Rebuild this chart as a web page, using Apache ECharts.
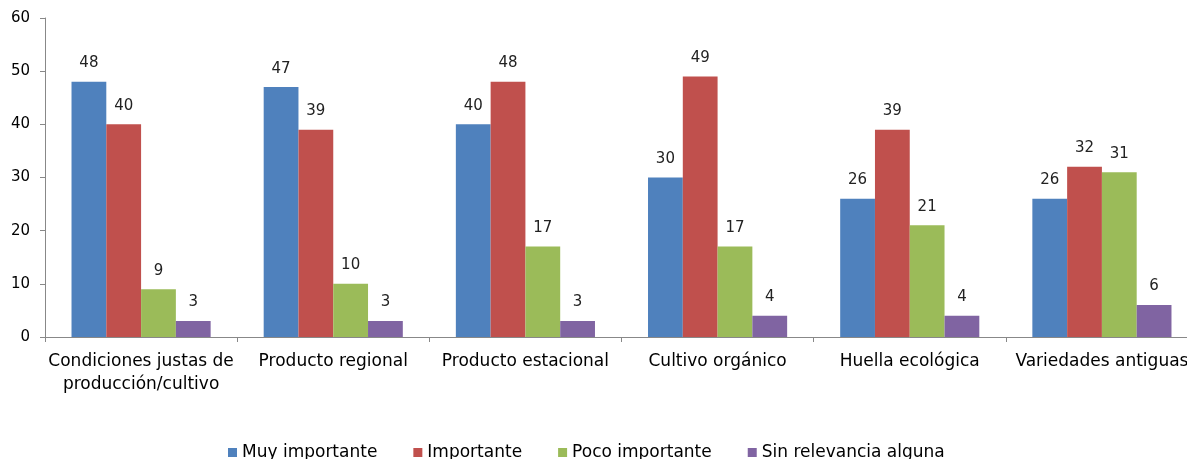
<!DOCTYPE html>
<html><head><meta charset="utf-8">
<script src="https://cdn.jsdelivr.net/npm/echarts@6/dist/echarts.min.js"></script>
<style>html,body{margin:0;padding:0;background:#fff;overflow:hidden;width:1187px;height:459px}#c{width:1198px;height:459px}</style>
</head><body><div id="c"></div>
<script>
const categories = ["Condiciones justas de\nproducción/cultivo","Producto regional","Producto estacional","Cultivo orgánico","Huella ecológica","Variedades antiguas"];
const seriesNames = ["Muy importante","Importante","Poco importante","Sin relevancia alguna"];
const muyImportante = [48,47,40,30,26,26];
const importante = [40,39,48,49,39,32];
const pocoImportante = [9,10,17,17,21,31];
const sinRelevancia = [3,3,3,4,4,6];
const yTicks = {min:0,max:60,interval:10};
const colors = ["#4F81BD","#C0504D","#9BBB59","#8064A2"];
const values = [muyImportante, importante, pocoImportante, sinRelevancia];
const font = "DejaVu Sans";
const chart = echarts.init(document.getElementById('c'));
chart.setOption({
  animation:false,
  textStyle:{fontFamily:font},
  grid:{left:45,right:0,top:18,bottom:122,containLabel:false},
  legend:{top:444,left:228,padding:0,itemWidth:9,itemHeight:9,itemGap:36,icon:'rect',
    textStyle:{fontFamily:font,fontSize:17,color:'#000'},data:seriesNames},
  xAxis:{type:'category',data:categories,
    axisLine:{lineStyle:{color:'#888'}},axisTick:{show:true,length:5,lineStyle:{color:'#888'}},
    axisLabel:{color:'#000',fontSize:17,fontFamily:font,margin:13,lineHeight:23,interval:0}},
  yAxis:{type:'value',min:yTicks.min,max:yTicks.max,interval:yTicks.interval,
    axisLine:{show:true,lineStyle:{color:'#888'}},axisTick:{show:true,length:5,lineStyle:{color:'#888'}},
    splitLine:{show:false},
    axisLabel:{color:'#000',fontSize:15,fontFamily:font,margin:15}},
  series: seriesNames.map((n,i)=>({name:n,type:'bar',data:values[i],barGap:'0%',barCategoryGap:'27.6%',
    itemStyle:{color:colors[i]},
    label:{show:true,position:'top',distance:11,color:'#222',fontSize:15,fontFamily:font}}))
});
</script></body></html>
